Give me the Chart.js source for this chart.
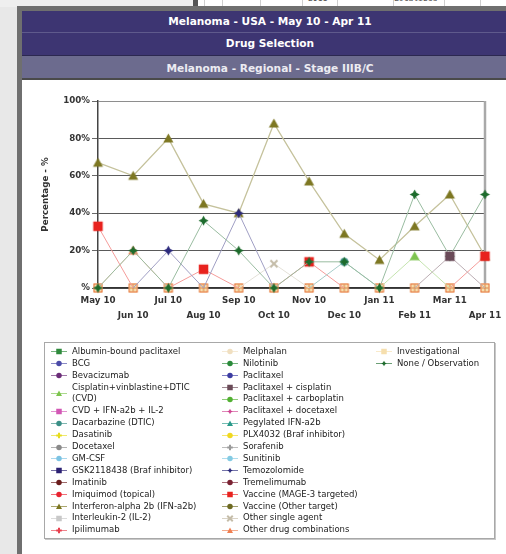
<!DOCTYPE html>
<html>
<head>
<meta charset="utf-8">
<script src="https://cdn.jsdelivr.net/npm/chart.js@4.4.1/dist/chart.umd.min.js"></script>
<style>
html, body { margin: 0; padding: 0; }
body { width: 506px; height: 554px; overflow: hidden; position: relative; background: #e8e8e8; font-family: "DejaVu Sans", Verdana, sans-serif; }
.abs { position: absolute; }
#strip { left: 0; top: 0; width: 506px; height: 7px; background: #efefef; }
#stripTable { left: 198px; top: 0; width: 308px; height: 6px; background: #fff; border-bottom: 1px solid #d0d0d0; overflow: hidden; }
#stripBar { left: 193px; top: 0; width: 5px; height: 7px; background: #555; }
.cellLine { position: absolute; top: 0; width: 1px; height: 6px; background: #cfcfcf; }
.cellText { position: absolute; top: -6px; font: 8px "DejaVu Sans Mono", monospace; color: #555; }
#frame { left: 17px; top: 6px; width: 520px; height: 560px; background: #6f6f6f; }
.bar { position: absolute; left: 22px; width: 496px; color: #fff; font-weight: bold; font-size: 10.6px; text-align: center; }
#bar1 { top: 11px; height: 21px; line-height: 20px; background: #3d3572; border-bottom: 1px solid #5f5a8c; }
#bar2 { top: 33px; height: 22px; line-height: 21px; background: #3d3572; border-bottom: 1px solid #2c2850; }
#bar3 { top: 56px; height: 22px; line-height: 24px; background: #6c6b8e; color: #ececf2; border-bottom: 2px solid #4a4a4a; }
#panel { left: 22px; top: 80px; width: 500px; height: 480px; background: #fff; }
#chartBox { left: 22px; top: 80px; width: 500px; height: 250px; }
#legendBox { left: 44px; top: 342px; width: 449px; height: 195px; border: 1px solid #a8a8a8; box-shadow: 1px 1px 0 #c8c8c8; background: #fff; }
.lcol { position: absolute; top: 345.8px; }
.litem { display: flex; align-items: center; }
.litem canvas { margin-right: 5px; flex: none; }
.litem span { font-size: 8.5px; line-height: 11.9px; color: #222; white-space: nowrap; }
</style>
</head>
<body>
<div id="strip" class="abs"></div>
<div id="stripBar" class="abs"></div>
<div id="stripTable" class="abs">
  <div class="cellLine" style="left:6px"></div>
  <div class="cellLine" style="left:24px"></div>
  <div class="cellLine" style="left:62px"></div>
  <div class="cellLine" style="left:104px"></div>
  <div class="cellLine" style="left:139px"></div>
  <div class="cellLine" style="left:195px"></div>
  <div class="cellLine" style="left:246px"></div>
  <div class="cellLine" style="left:282px"></div>
  <div class="cellText" style="left:110px">2011</div>
  <div class="cellText" style="left:196px">Localized</div>
</div>
<div id="frame" class="abs"></div>
<div id="bar1" class="bar">Melanoma - USA - May 10 - Apr 11</div>
<div id="bar2" class="bar">Drug Selection</div>
<div id="bar3" class="bar">Melanoma - Regional - Stage IIIB/C</div>
<div id="panel" class="abs"></div>
<div id="chartBox" class="abs"><canvas id="chart" width="500" height="250"></canvas></div>
<div id="legendBox" class="abs"></div>

<script>
// months on the x axis
const months = ['May 10', 'Jun 10', 'Jul 10', 'Aug 10', 'Sep 10', 'Oct 10',
                'Nov 10', 'Dec 10', 'Jan 11', 'Feb 11', 'Mar 11', 'Apr 11'];

const drugNames = [
  'Albumin-bound paclitaxel', 'BCG', 'Bevacizumab', 'Cisplatin+vinblastine+DTIC (CVD)',
  'CVD + IFN-a2b + IL-2', 'Dacarbazine (DTIC)', 'Dasatinib', 'Docetaxel', 'GM-CSF',
  'GSK2118438 (Braf inhibitor)', 'Imatinib', 'Imiquimod (topical)',
  'Interferon-alpha 2b (IFN-a2b)', 'Interleukin-2 (IL-2)', 'Ipilimumab',
  'Melphalan', 'Nilotinib', 'Paclitaxel', 'Paclitaxel + cisplatin',
  'Paclitaxel + carboplatin', 'Paclitaxel + docetaxel', 'Pegylated IFN-a2b',
  'PLX4032 (Braf inhibitor)', 'Sorafenib', 'Sunitinib', 'Temozolomide',
  'Tremelimumab', 'Vaccine (MAGE-3 targeted)', 'Vaccine (Other target)',
  'Other single agent', 'Other drug combinations', 'Investigational', 'None / Observation'
];

// percentages
const interferonA2b      = [67, 60, 80, 45, 40, 88, 57, 29, 15, 33, 50, 17];
const noneObservation    = [0, 20, 0, 36, 20, 0, 14, 14, 0, 50, 17, 50];
const vaccineMage3       = [33, 0, 0, 10, 0, 0, 14, 0, 0, 0, 0, 17];
const temozolomide       = [0, 0, 20, 0, 40, 0, 0, 0, 0, 0, 0, 0];
const cvdRegimen         = [0, 0, 0, 0, 0, 0, 0, 0, 0, 17, 0, 0];
const dacarbazine        = [0, 0, 0, 0, 0, 0, 0, 14, 0, 0, 0, 0];
const otherSingleAgent   = [0, 0, 0, 0, 0, 13, 0, 0, 0, 0, 0, 0];
const paclitaxelCisplatin = [0, 0, 0, 0, 0, 0, 0, 0, 0, 0, 17, 0];
const otherCombinations  = [0, 20, 0, 0, 0, 0, 0, 0, 0, 0, 0, 0];
const notUsed            = [0, 0, 0, 0, 0, 0, 0, 0, 0, 0, 0, 0];

const drugValues = {
  'Interferon-alpha 2b (IFN-a2b)': interferonA2b,
  'None / Observation': noneObservation,
  'Vaccine (MAGE-3 targeted)': vaccineMage3,
  'Temozolomide': temozolomide,
  'Cisplatin+vinblastine+DTIC (CVD)': cvdRegimen,
  'Dacarbazine (DTIC)': dacarbazine,
  'Other single agent': otherSingleAgent,
  'Paclitaxel + cisplatin': paclitaxelCisplatin,
  'Other drug combinations': otherCombinations
};

// marker colour / shape per drug (same order as drugNames)
const drugStyles = [
  ['#2f8a3c', 'square'], ['#4b4ba8', 'circle'], ['#6b2d78', 'circle'], ['#7dc44e', 'triangle'],
  ['#d257b5', 'square'], ['#3a8f86', 'circle'], ['#e6dc1e', 'cross'], ['#8a8a8a', 'circle'],
  ['#7cc3e3', 'circle'], ['#2c2173', 'square'], ['#6a1c1c', 'circle'], ['#e8232f', 'circle'],
  ['#7d7722', 'triangle'], ['#c8c8c8', 'square'], ['#e8404e', 'cross'],
  ['#f0dfc0', 'circle'], ['#2a8a3a', 'circle'], ['#3c3ca2', 'circle'], ['#6a4a58', 'square'],
  ['#52b032', 'circle'], ['#d04592', 'star'], ['#2a9a8a', 'triangle'], ['#f0d820', 'circle'],
  ['#9a9a9a', 'cross'], ['#84cbe3', 'circle'], ['#2c2a7c', 'star'], ['#7a2232', 'circle'],
  ['#e8221e', 'square'], ['#6d6a22', 'circle'], ['#c4bca8', 'x'], ['#f08052', 'triangle'],
  ['#f6dfae', 'boxcross'], ['#1d6b2c', 'star']
];

// which series sit above others where markers overlap (lower = on top)
const drawOrder = {
  'None / Observation': 1,
  'Paclitaxel + cisplatin': 0,
  'Vaccine (MAGE-3 targeted)': 2,
  'Interferon-alpha 2b (IFN-a2b)': 3,
  'Investigational': 5
};

function tint(hex, k) {
  const n = parseInt(hex.slice(1), 16);
  const f = v => Math.round(v + (255 - v) * k);
  return 'rgb(' + f(n >> 16) + ',' + f((n >> 8) & 255) + ',' + f(n & 255) + ')';
}

function drawShape(g, shape, color, cx, cy, size) {
  const r = size / 2;
  g.fillStyle = color;
  g.strokeStyle = color;
  g.beginPath();
  if (shape === 'square') {
    g.fillRect(cx - r, cy - r, size, size);
  } else if (shape === 'circle') {
    g.arc(cx, cy, r, 0, Math.PI * 2);
    g.fill();
  } else if (shape === 'triangle') {
    g.moveTo(cx, cy - r);
    g.lineTo(cx + r, cy + r * 0.8);
    g.lineTo(cx - r, cy + r * 0.8);
    g.closePath();
    g.fill();
  } else if (shape === 'star') {
    for (let i = 0; i < 8; i++) {
      const a = i * Math.PI / 4 - Math.PI / 2;
      const rr = i % 2 === 0 ? r : r * 0.5;
      g.lineTo(cx + Math.cos(a) * rr, cy + Math.sin(a) * rr);
    }
    g.closePath();
    g.fill();
  } else if (shape === 'x' || shape === 'cross') {
    g.lineWidth = 2;
    if (shape === 'x') {
      g.moveTo(cx - r, cy - r); g.lineTo(cx + r, cy + r);
      g.moveTo(cx + r, cy - r); g.lineTo(cx - r, cy + r);
    } else {
      g.moveTo(cx - r, cy); g.lineTo(cx + r, cy);
      g.moveTo(cx, cy - r); g.lineTo(cx, cy + r);
    }
    g.stroke();
  } else if (shape === 'boxcross') {
    g.fillRect(cx - r, cy - r, size, size);
    g.lineWidth = 1;
    g.strokeStyle = '#e8703a';
    g.strokeRect(cx - r + 0.5, cy - r + 0.5, size - 1, size - 1);
    g.strokeStyle = '#d8864a';
    g.beginPath();
    g.moveTo(cx, cy - r + 1); g.lineTo(cx, cy + r - 1);
    g.moveTo(cx - r + 1, cy); g.lineTo(cx + r - 1, cy);
    g.stroke();
  }
}

function makeMarker(shape, color, size) {
  const s = Math.ceil(size) + 3;
  const c = document.createElement('canvas');
  c.width = s;
  c.height = s;
  drawShape(c.getContext('2d'), shape, color, s / 2, s / 2, size);
  return c;
}

const markerSize = { square: 9.5, circle: 8, triangle: 10, star: 10, x: 7, cross: 7, boxcross: 9 };

const datasets = drugNames.map((name, i) => {
  const [color, shape] = drugStyles[i];
  const values = drugValues[name] || notUsed;
  const keepZero = name === 'Investigational' || name === 'None / Observation';
  let order = drugValues[name] ? 2 : 10;
  if (name in drawOrder) order = drawOrder[name];
  return {
    label: name,
    data: values.slice(),
    borderColor: tint(color, 0.55),
    borderWidth: name.startsWith('Interferon') ? 1.3 : 1,
    pointStyle: makeMarker(shape, color, markerSize[shape]),
    pointRadius: ctx => (ctx.raw === 0 && !keepZero) ? 0 : 4,
    order: order,
    clip: false,
    tension: 0,
    segment: {
      borderColor: ctx => (ctx.p0.parsed.y === 0 && ctx.p1.parsed.y === 0) ? 'rgba(0,0,0,0)' : undefined
    },
    markerColor: color,
    markerShape: shape
  };
});

const rightEdge = {
  id: 'rightEdge',
  beforeDatasetsDraw(chart) {
    const { ctx, chartArea: a } = chart;
    ctx.save();
    ctx.strokeStyle = '#a9a9a9';
    ctx.lineWidth = 2.5;
    ctx.beginPath();
    ctx.moveTo(a.right, a.top);
    ctx.lineTo(a.right, a.bottom);
    ctx.stroke();
    ctx.restore();
  }
};

const tickFont = { family: '"DejaVu Sans", Verdana, sans-serif', size: 8.7, weight: 'bold' };

const chart = new Chart(document.getElementById('chart'), {
  type: 'line',
  data: { labels: months, datasets: datasets },
  plugins: [rightEdge],
  options: {
    responsive: false,
    animation: false,
    events: [],
    layout: { padding: { left: 0, top: 21, right: 37, bottom: 0 } },
    plugins: { legend: { display: false }, tooltip: { enabled: false } },
    scales: {
      x: {
        type: 'category',
        offset: false,
        grid: { display: false },
        border: { display: true, color: '#333', width: 1.5 },
        ticks: {
          autoSkip: false,
          maxRotation: 0,
          padding: -3,
          color: '#333',
          font: Object.assign({ lineHeight: '15px' }, tickFont),
          callback: function (v, i) {
            const t = this.getLabelForValue(v);
            return i % 2 === 0 ? [t, ''] : ['', t];
          }
        },
        afterFit: s => { s.height = 42; }
      },
      y: {
        min: 0,
        max: 100,
        grid: {
          color: ctx => ctx.tick && ctx.tick.value === 100 ? '#8e8e8e' : '#5a5a5a',
          tickLength: 6,
          tickColor: '#6a6a6a'
        },
        border: { color: '#444', width: 1.5 },
        ticks: {
          stepSize: 20,
          padding: 2,
          color: '#333',
          font: tickFont,
          callback: v => v === 0 ? '%' : v + '%'
        },
        title: {
          display: true,
          text: 'Percentage - %',
          color: '#333',
          font: tickFont,
          padding: { top: 19, bottom: 0 }
        },
        afterFit: s => { s.width = 76; }
      }
    }
  }
});

// html legend, three columns filled top to bottom
function buildLegend(c) {
  const sets = c.data.datasets;
  const columns = [sets.slice(0, 15), sets.slice(15, 31), sets.slice(31)];
  const colLeft = [51, 222, 376];
  columns.forEach((items, ci) => {
    const col = document.createElement('div');
    col.className = 'lcol';
    col.style.left = colLeft[ci] + 'px';
    items.forEach(ds => {
      const row = document.createElement('div');
      row.className = 'litem';
      const key = document.createElement('canvas');
      key.width = 16;
      key.height = 9;
      const g = key.getContext('2d');
      g.strokeStyle = tint(ds.markerColor, 0.35);
      g.lineWidth = 1;
      g.beginPath();
      g.moveTo(0, 4.5);
      g.lineTo(16, 4.5);
      g.stroke();
      const shp = ds.markerShape === 'boxcross' ? 'square' : ds.markerShape;
      drawShape(g, shp, ds.markerColor, 8, 4.5, shp === 'triangle' ? 6 : 5.5);
      const txt = document.createElement('span');
      const label = ds.label;
      if (label.length > 30) {
        const cut = label.lastIndexOf(' ');
        txt.appendChild(document.createTextNode(label.slice(0, cut)));
        txt.appendChild(document.createElement('br'));
        txt.appendChild(document.createTextNode(label.slice(cut + 1)));
      } else {
        txt.textContent = label;
      }
      row.appendChild(key);
      row.appendChild(txt);
      col.appendChild(row);
    });
    document.body.appendChild(col);
  });
}
buildLegend(chart);
</script>
</body>
</html>
